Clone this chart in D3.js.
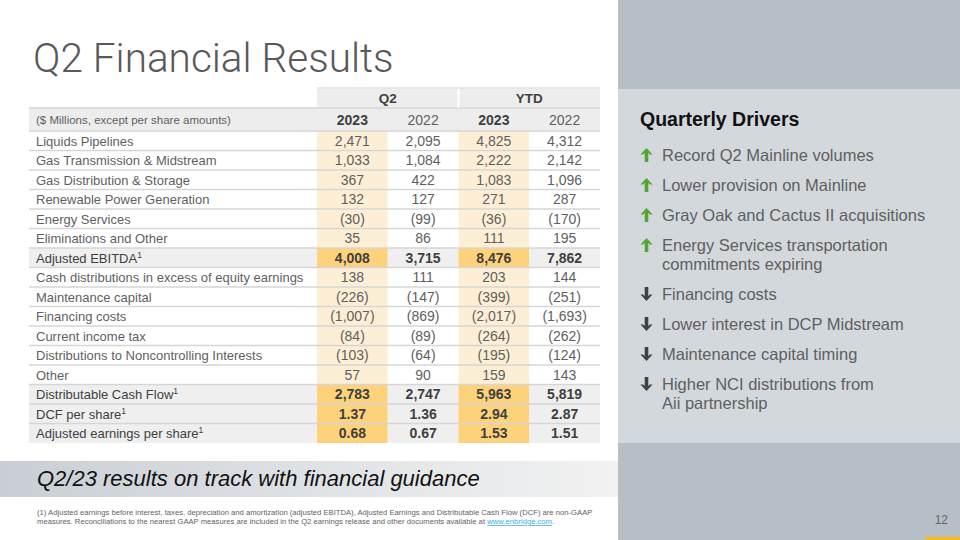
<!DOCTYPE html>
<html><head><meta charset="utf-8">
<script src="https://cdn.jsdelivr.net/npm/d3@7"></script>
<style>
html,body{margin:0;padding:0;background:#fff;}
svg{display:block;font-family:"Liberation Sans",Arial,sans-serif;}
</style></head>
<body>
<svg id="c" width="960" height="540"></svg>
<script>
// ---------- DATA ----------
const title = "Q2 Financial Results";
const unitsLabel = "($ Millions, except per share amounts)";
const periods = ["Q2", "YTD"];
const years = ["2023", "2022"];
const rowLabels = [
  "Liquids Pipelines", "Gas Transmission & Midstream", "Gas Distribution & Storage",
  "Renewable Power Generation", "Energy Services", "Eliminations and Other",
  "Adjusted EBITDA", "Cash distributions in excess of equity earnings",
  "Maintenance capital", "Financing costs", "Current income tax",
  "Distributions to Noncontrolling Interests", "Other", "Distributable Cash Flow",
  "DCF per share", "Adjusted earnings per share"
];
const q2_2023  = [2471, 1033, 367, 132, -30, 35, 4008, 138, -226, -1007, -84, -103, 57, 2783, 1.37, 0.68];
const q2_2022  = [2095, 1084, 422, 127, -99, 86, 3715, 111, -147, -869, -89, -64, 90, 2747, 1.36, 0.67];
const ytd_2023 = [4825, 2222, 1083, 271, -36, 111, 8476, 203, -399, -2017, -264, -195, 159, 5963, 2.94, 1.53];
const ytd_2022 = [4312, 2142, 1096, 287, -170, 195, 7862, 144, -251, -1693, -262, -124, 143, 5819, 2.87, 1.51];
const boldRows = ["Adjusted EBITDA", "Distributable Cash Flow", "DCF per share", "Adjusted earnings per share"];
const perShareRows = ["DCF per share", "Adjusted earnings per share"];
const footnotedRows = ["Adjusted EBITDA", "Distributable Cash Flow", "DCF per share", "Adjusted earnings per share"];

const driversTitle = "Quarterly Drivers";
const driverDirs = ["up", "up", "up", "up", "down", "down", "down", "down"];
const driverTexts = [
  ["Record Q2 Mainline volumes"],
  ["Lower provision on Mainline"],
  ["Gray Oak and Cactus II acquisitions"],
  ["Energy Services transportation", "commitments expiring"],
  ["Financing costs"],
  ["Lower interest in DCP Midstream"],
  ["Maintenance capital timing"],
  ["Higher NCI distributions from", "Aii partnership"]
];
const bannerText = "Q2/23 results on track with financial guidance";
const footLines = [
  "(1) Adjusted earnings before interest, taxes, depreciation and amortization (adjusted EBITDA), Adjusted Earnings and Distributable Cash Flow (DCF) are non-GAAP",
  "measures. Reconciliations to the nearest GAAP measures are included in the Q2 earnings release and other documents available at"
];
const footLink = "www.enbridge.com";
const pageNum = "12";

// ---------- DRAW ----------
const svg = d3.select("#c");
const cols = [
  {key: "q2_2023", period: "Q2", year: "2023", vals: q2_2023},
  {key: "q2_2022", period: "Q2", year: "2022", vals: q2_2022},
  {key: "ytd_2023", period: "YTD", year: "2023", vals: ytd_2023},
  {key: "ytd_2022", period: "YTD", year: "2022", vals: ytd_2022}
];
const txt = "#5f5f5f", txtBold = "#404040";

// right panel
svg.append("rect").attr("x", 618).attr("y", 0).attr("width", 342).attr("height", 540).attr("fill", "#b5bfc5");
svg.append("rect").attr("x", 618).attr("y", 89).attr("width", 342).attr("height", 354).attr("fill", "#d3d8dc");
svg.append("rect").attr("x", 925).attr("y", 537).attr("width", 35).attr("height", 3).attr("fill", "#fdb913");
svg.append("text").attr("x", 948).attr("y", 524).attr("text-anchor", "end")
  .attr("font-size", 12).attr("fill", "#666").text(pageNum);

// title
svg.append("text").attr("x", 33).attr("y", 72).attr("font-family", "Roboto, 'Liberation Sans', sans-serif")
  .attr("font-weight", 300).attr("font-size", 40.5).attr("fill", "#595959").text(title);

// scales
const xLabel = [29, 317];
const x = d3.scaleBand().domain(cols.map(c => c.key)).range([317, 600]);
const xPeriod = d3.scaleBand().domain(periods).range([317, 600]);
const y = d3.scaleBand().domain(rowLabels).range([131, 443]);
const headTop = 88, head2Top = 108;

const fmtInt = d3.format(",");
const fmtDec = d3.format(".2f");
function fmt(v, row) {
  const s = perShareRows.includes(row) ? fmtDec(Math.abs(v)) : fmtInt(Math.abs(v));
  return v < 0 ? "(" + s + ")" : s;
}

const g = svg.append("g");
// header row 1
g.selectAll(".ph").data(periods).join("rect")
  .attr("x", d => xPeriod(d)).attr("y", headTop)
  .attr("width", xPeriod.bandwidth()).attr("height", head2Top - headTop).attr("fill", "#ededed");
g.selectAll(".pt").data(periods).join("text")
  .attr("x", d => xPeriod(d) + xPeriod.bandwidth() / 2).attr("y", headTop + 15)
  .attr("text-anchor", "middle").attr("font-size", 13.5).attr("font-weight", "bold").attr("fill", txtBold).text(d => d);
// header row 2
g.append("rect").attr("x", xLabel[0]).attr("y", head2Top).attr("width", 600 - xLabel[0])
  .attr("height", 131 - head2Top).attr("fill", "#ededed");
g.append("text").attr("x", 36).attr("y", head2Top + 16).attr("font-size", 11.5).attr("fill", txt).text(unitsLabel);
g.selectAll(".yt").data(cols).join("text")
  .attr("x", d => x(d.key) + x.bandwidth() / 2).attr("y", head2Top + 17)
  .attr("text-anchor", "middle").attr("font-size", 14)
  .attr("font-weight", d => d.year === "2023" ? "bold" : "normal")
  .attr("fill", d => d.year === "2023" ? txtBold : txt).text(d => d.year);

// data rows
const rows = g.selectAll(".row").data(rowLabels).join("g").attr("transform", d => `translate(0,${y(d)})`);
rows.append("rect").attr("x", xLabel[0]).attr("width", xLabel[1] - xLabel[0]).attr("height", y.bandwidth())
  .attr("fill", d => boldRows.includes(d) ? "#efefef" : "#ffffff");
rows.each(function(row, i) {
  const r = d3.select(this);
  const bold = boldRows.includes(row);
  cols.forEach(c => {
    const is23 = c.year === "2023";
    r.append("rect").attr("x", x(c.key)).attr("width", x.bandwidth()).attr("height", y.bandwidth())
      .attr("fill", is23 ? (bold ? "#fdd27b" : "#fdefd6") : (bold ? "#efefef" : "#ffffff"));
    r.append("text").attr("x", x(c.key) + x.bandwidth() / 2).attr("y", y.bandwidth() / 2 + 5)
      .attr("text-anchor", "middle").attr("font-size", 14)
      .attr("font-weight", bold ? "bold" : "normal")
      .attr("fill", bold ? txtBold : txt)
      .text(fmt(c.vals[i], row));
  });
  const t = r.append("text").attr("x", 36).attr("y", y.bandwidth() / 2 + 5)
    .attr("font-size", 13).attr("fill", bold ? txtBold : txt).text(row);
  if (footnotedRows.includes(row)) {
    t.append("tspan").attr("font-size", 8.5).attr("dy", -5).text("1");
  }
});
// separators
const sepYs = [head2Top, 131].concat(rowLabels.slice(1).map(d => y(d)));
g.selectAll(".sep").data(sepYs).join("line")
  .attr("x1", xLabel[0]).attr("x2", 600).attr("y1", d => d).attr("y2", d => d)
  .attr("stroke", "#d6d6d6").attr("stroke-width", 1.5);
g.append("line").attr("x1", xPeriod("YTD")).attr("x2", xPeriod("YTD")).attr("y1", headTop).attr("y2", head2Top)
  .attr("stroke", "#fff").attr("stroke-width", 2);
g.append("line").attr("x1", 317).attr("x2", 600).attr("y1", headTop).attr("y2", headTop)
  .attr("stroke", "#e3e3e3").attr("stroke-width", 1.5);

// drivers
svg.append("text").attr("x", 640).attr("y", 126).attr("font-size", 19.5).attr("font-weight", "bold")
  .attr("fill", "#111").text(driversTitle);
const itemGap = 30, lineGap = 19;
let cy = 161;
const driverBase = driverTexts.map(lines => { const b = cy; cy += itemGap + (lines.length - 1) * lineGap; return b; });
const dg = svg.selectAll(".drv").data(driverTexts).join("g")
  .attr("transform", (d, i) => `translate(0,${driverBase[i]})`);
dg.each(function(lines, i) {
  const gg = d3.select(this);
  lines.forEach((ln, j) => {
    gg.append("text").attr("x", 662).attr("y", j * lineGap).attr("font-size", 16.5).attr("fill", txt).text(ln);
  });
  const up = driverDirs[i] === "up";
  const p = up
    ? "M646.5,-13 L652.5,-6.5 L649.8,-6.5 L648.3,-8.2 L648.3,1 L644.7,1 L644.7,-8.2 L643.2,-6.5 L640.5,-6.5 Z"
    : "M646.5,1 L652.5,-5.5 L649.8,-5.5 L648.3,-3.8 L648.3,-13 L644.7,-13 L644.7,-3.8 L643.2,-5.5 L640.5,-5.5 Z";
  gg.append("path").attr("d", p).attr("fill", up ? "#52a535" : "#404040");
});

// banner
const grad = svg.append("defs").append("linearGradient").attr("id", "bg").attr("x1", 0).attr("x2", 1);
grad.append("stop").attr("offset", 0).attr("stop-color", "#c8ced3");
grad.append("stop").attr("offset", 0.5).attr("stop-color", "#dfe2e5");
grad.append("stop").attr("offset", 1).attr("stop-color", "#f2f2f2");
svg.append("rect").attr("x", 0).attr("y", 461).attr("width", 618).attr("height", 36).attr("fill", "url(#bg)");
svg.append("text").attr("x", 37).attr("y", 486).attr("font-size", 22).attr("font-style", "italic")
  .attr("fill", "#111").text(bannerText);

// footnote (font size fitted so that line 1 spans the reference width)
const footFont = "'Liberation Sans Narrow', 'Liberation Sans', Arial, sans-serif";
const f1 = svg.append("text").attr("x", 37).attr("y", 515).attr("font-family", footFont)
  .attr("font-size", 8).attr("fill", txt).text(footLines[0]);
const w1 = f1.node().getComputedTextLength();
const fs = Math.min(9.5, 8 * 556 / w1);
f1.attr("font-size", fs);
const f2 = svg.append("text").attr("x", 37).attr("y", 524).attr("font-family", footFont)
  .attr("font-size", fs).attr("fill", txt).text(footLines[1]);
const w2 = f2.node().getComputedTextLength();
const lk = svg.append("text").attr("x", 37 + w2 + fs * 0.3).attr("y", 524).attr("font-family", footFont)
  .attr("font-size", fs).attr("fill", "#3aaee0").attr("text-decoration", "underline").text(footLink);
const w3 = lk.node().getComputedTextLength();
svg.append("text").attr("x", 37 + w2 + fs * 0.3 + w3 + 0.3).attr("y", 524).attr("font-family", footFont)
  .attr("font-size", fs).attr("fill", txt).text(".");
</script>
</body></html>
